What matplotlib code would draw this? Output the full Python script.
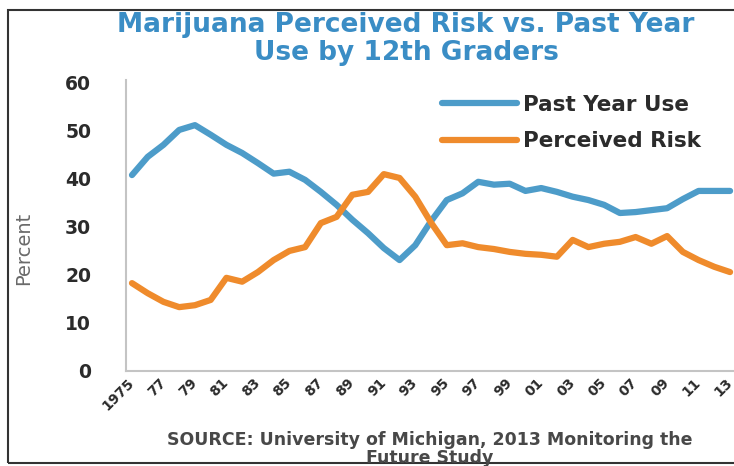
import matplotlib.pyplot as plt
from matplotlib.patches import Rectangle

# Monitoring the Future, 12th graders, 1975-2013 (percent)
years = list(range(1975, 2014))
past_year_use = [40.8, 44.6, 47.1, 50.2, 51.2, 49.2, 47.1, 45.4, 43.3, 41.1,
                 41.5, 39.8, 37.3, 34.6, 31.5, 28.7, 25.6, 23.1, 26.2, 31.2,
                 35.6, 37.0, 39.4, 38.8, 39.0, 37.5, 38.1, 37.3, 36.3, 35.6,
                 34.6, 32.9, 33.1, 33.5, 33.9, 35.8, 37.5, 37.5, 37.5]
perceived_risk = [18.3, 16.2, 14.4, 13.3, 13.7, 14.8, 19.4, 18.6, 20.6, 23.1,
                  25.0, 25.8, 30.8, 32.1, 36.7, 37.3, 41.0, 40.2, 36.3, 30.9,
                  26.2, 26.6, 25.8, 25.4, 24.8, 24.4, 24.2, 23.8, 27.3, 25.8,
                  26.5, 26.9, 27.9, 26.5, 28.1, 24.8, 23.1, 21.7, 20.6]
tick_years = list(range(1975, 2014, 2))
tick_labels = ['1975'] + ['%02d' % (y % 100) for y in tick_years[1:]]

BLUE = '#4d9cc9'
ORANGE = '#ef8b2c'
W, H = 734, 466
AX_L, AX_T, AX_B = 126, 80, 371

fig = plt.figure(figsize=(W / 100, H / 100), dpi=100)
ax = fig.add_axes([AX_L / W, 1 - AX_B / H, 1 - AX_L / W, (AX_B - AX_T) / H])

ax.plot(years, past_year_use, color=BLUE, lw=4.5, solid_capstyle='round',
        label='Past Year Use')
ax.plot(years, perceived_risk, color=ORANGE, lw=4.5, solid_capstyle='round',
        label='Perceived Risk')

ax.set_xlim(1974.62, 2013.25)
ax.set_ylim(0, 60.6)
ax.set_yticks(range(0, 61, 10))
ax.set_yticklabels([str(v) for v in range(0, 61, 10)],
                   fontsize=13.5, fontweight='bold', color='#2b2b2b')
ax.set_xticks(tick_years)
ax.set_xticklabels(tick_labels, rotation=45, ha='right', va='center',
                   rotation_mode='anchor', fontsize=10, fontweight='bold',
                   color='#2b2b2b')
ax.tick_params(axis='y', length=0, pad=25)
ax.tick_params(axis='x', length=0, pad=7)

for side in ('top', 'right'):
    ax.spines[side].set_visible(False)
for side in ('left', 'bottom'):
    ax.spines[side].set_color('#c4c4c4')
    ax.spines[side].set_linewidth(1.5)

ax.set_ylabel('Percent', fontsize=14, color='#6a6a6a')
ax.yaxis.set_label_coords((33 - AX_L) / (W - AX_L), 0.42)

leg = ax.legend(loc='upper left',
                bbox_to_anchor=((442 - AX_L) / (W - AX_L), (AX_B - 95) / (AX_B - AX_T)),
                frameon=False, fontsize=15.5, handlelength=3.5,
                handletextpad=0.25, labelspacing=0.75, borderpad=0,
                borderaxespad=0)
for t in leg.get_texts():
    t.set_fontweight('bold')
    t.set_color('#2b2b2b')

fig.text(406 / W, 1 - 39 / H,
         'Marijuana Perceived Risk vs. Past Year\nUse by 12th Graders',
         ha='center', va='center', fontsize=19, fontweight='bold',
         color='#3a8dc5', linespacing=1.1)

fig.text(430 / W, 1 - 449 / H,
         'SOURCE: University of Michigan, 2013 Monitoring the\nFuture Study',
         ha='center', va='center', fontsize=12.5, fontweight='bold',
         color='#484848', linespacing=1.05)

# outer frame
fig.patches.append(Rectangle((8 / W, 1 - 463 / H), 1.0, (463 - 10) / H,
                             transform=fig.transFigure, fill=False,
                             edgecolor='#333333', lw=1.5))

fig.savefig('out.png', dpi=100)
